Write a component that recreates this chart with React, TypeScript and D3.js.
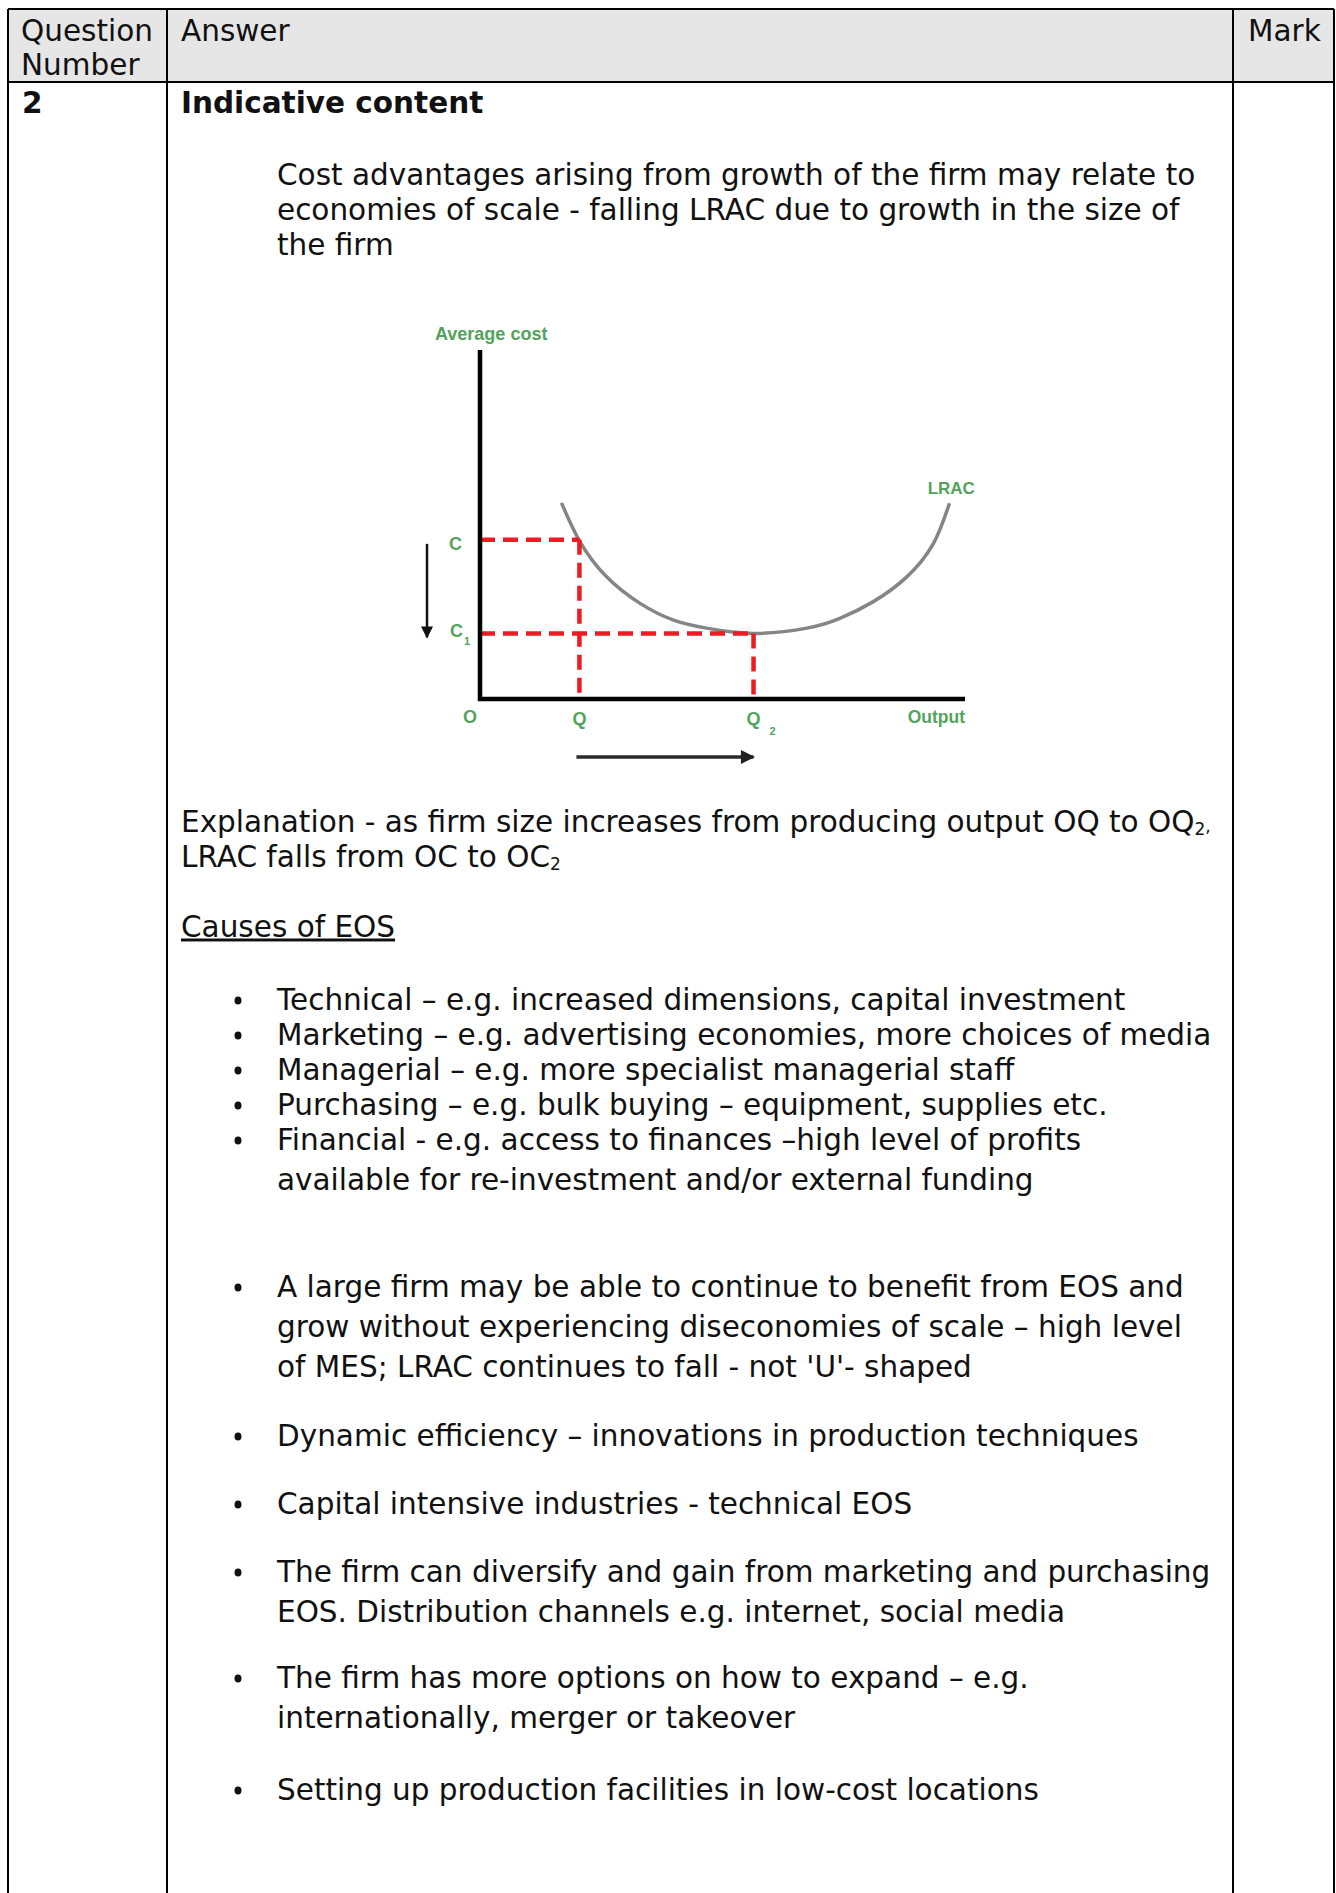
import React from 'react';
import * as d3 from 'd3';

// table text
const headerLabels = ['Question', 'Number'];
const answerLabel = 'Answer';
const markLabel = 'Mark';
const questionNo = '2';
const sectionTitle = 'Indicative content';
const introLines = [
    'Cost advantages arising from growth of the firm may relate to',
    'economies of scale - falling LRAC due to growth in the size of',
    'the firm',
];
const causesTitle = 'Causes of EOS';
const causes = [
    ['Technical – e.g. increased dimensions, capital investment'],
    ['Marketing – e.g. advertising economies, more choices of media'],
    ['Managerial – e.g. more specialist managerial staff'],
    ['Purchasing – e.g. bulk buying – equipment, supplies etc.'],
    ['Financial - e.g. access to finances –high level of profits', 'available for re-investment and/or external funding'],
];
const points = [
    ['A large firm may be able to continue to benefit from EOS and', 'grow without experiencing diseconomies of scale – high level', "of MES; LRAC continues to fall - not 'U'- shaped"],
    ['Dynamic efficiency – innovations in production techniques'],
    ['Capital intensive industries - technical EOS'],
    ['The firm can diversify and gain from marketing and purchasing', 'EOS. Distribution channels e.g. internet, social media'],
    ['The firm has more options on how to expand – e.g.', 'internationally, merger or takeover'],
    ['Setting up production facilities in low-cost locations'],
];

// chart values (output, average cost)
const lracCurve: [number, number][] = [
    [16.8, 56.2], [20.6, 45.1], [26.1, 35.0], [33.0, 27.4], [39.9, 22.6], [46.7, 20.3],
    [56.4, 18.8], [67.4, 20.3], [74.2, 23.1], [81.1, 27.9], [88.0, 35.0], [93.5, 44.6], [96.8, 56.1],
];
const qVal = 20.5;
const q2Val = 56.4;
const cVal = 45.6;
const c1Val = 18.8;

const FONT = 'DejaVu Sans, Verdana, sans-serif';
const CHART_FONT = 'Liberation Sans, Arial, sans-serif';
const GREEN = '#3f9a4b';
const RED = '#ec1c24';

export default function App() {
    const W = 1336;
    const H = 1893;
    const colX = [8, 167, 1233, 1334];
    const top = 9;
    const headBottom = 82;
    const fs = 29.5;
    const dy = 1.5; // small nudge for all body text

    const x = d3.scaleLinear().domain([0, 100]).range([480, 965]);
    const y = d3.scaleLinear().domain([0, 100]).range([699, 350]);
    const line = d3.line<[number, number]>()
        .x(d => x(d[0]))
        .y(d => y(d[1]))
        .curve(d3.curveNatural);

    const causeBase = [1008, 1043, 1078, 1113, 1148].map(v => v + dy);
    const pointBase = [1295, 1444, 1512, 1580, 1686, 1798].map(v => v + dy);

    const bullet = (k: string, base: number) => (
        <ellipse key={k} cx={238} cy={base - 9} rx={3.5} ry={4} fill="#111" />
    );

    return (
        <svg width={W} height={H} style={{ position: 'absolute', left: 0, top: 0, background: '#fff' }}
            fontFamily={FONT}>
            <defs>
                <marker id="ahDown" viewBox="0 0 10 10" refX="9" refY="5" markerUnits="userSpaceOnUse"
                    markerWidth="15" markerHeight="12" orient="auto">
                    <path d="M0,0 L10,5 L0,10 z" fill="#111" />
                </marker>
                <marker id="ahRight" viewBox="0 0 10 10" refX="9" refY="5" markerUnits="userSpaceOnUse"
                    markerWidth="16" markerHeight="14" orient="auto">
                    <path d="M0,0 L10,5 L0,10 z" fill="#222" />
                </marker>
            </defs>

            {/* table */}
            <rect x={colX[0]} y={top} width={colX[3] - colX[0]} height={headBottom - top} fill="#e6e6e6" />
            <line x1={colX[0]} x2={colX[3]} y1={top} y2={top} stroke="#000" strokeWidth={2} />
            <line x1={colX[0]} x2={colX[3]} y1={headBottom} y2={headBottom} stroke="#000" strokeWidth={2} />
            {colX.map((cx, i) => (
                <line key={i} x1={cx} x2={cx} y1={top} y2={H} stroke="#000" strokeWidth={2} />
            ))}

            <g fontSize={fs} fill="#111">
                <text x={21} y={41}>{headerLabels[0]}</text>
                <text x={21} y={75}>{headerLabels[1]}</text>
                <text x={181} y={41}>{answerLabel}</text>
                <text x={1248} y={41}>{markLabel}</text>
                <text x={22} y={112.5} fontWeight="bold">{questionNo}</text>
                <text x={181} y={112.5} fontWeight="bold">{sectionTitle}</text>

                {introLines.map((t, i) => (
                    <text key={i} x={277} y={183 + dy + i * 35}>{t}</text>
                ))}

                <text x={181} y={830 + dy}>
                    Explanation - as firm size increases from producing output OQ to OQ
                    <tspan fontSize={17} dy={3}>2</tspan>
                    <tspan fontSize={17} dy={-3}>,</tspan>
                </text>
                <text x={181} y={865 + dy}>
                    LRAC falls from OC to OC
                    <tspan fontSize={17} dy={3}>2</tspan>
                </text>

                <text x={181} y={935 + dy} textDecoration="underline">{causesTitle}</text>

                {causes.map((c, i) => (
                    <g key={`c${i}`}>
                        {bullet(`cb${i}`, causeBase[i])}
                        {c.map((t, j) => (
                            <text key={j} x={277} y={causeBase[i] + j * 40}>{t}</text>
                        ))}
                    </g>
                ))}

                {points.map((p, i) => (
                    <g key={`p${i}`}>
                        {bullet(`pb${i}`, pointBase[i])}
                        {p.map((t, j) => (
                            <text key={j} x={277} y={pointBase[i] + j * 40}>{t}</text>
                        ))}
                    </g>
                ))}
            </g>

            {/* diagram */}
            <g fontFamily={CHART_FONT} fontWeight="bold" fill={GREEN} opacity={0.9}>
                <text x={x(0) - 45} y={y(100) - 10} fontSize={18}>Average cost</text>
                <text x={x(92.3)} y={y(0) - 205} fontSize={17}>LRAC</text>
                <text x={x(0) - 31} y={y(cVal) + 10} fontSize={18}>C</text>
                <text x={x(0) - 30} y={y(c1Val) + 4} fontSize={18}>C</text>
                <text x={x(0) - 16} y={y(c1Val) + 12} fontSize={11}>1</text>
                <text x={x(0) - 17} y={y(0) + 24} fontSize={18}>O</text>
                <text x={x(qVal)} y={y(0) + 26} fontSize={18} textAnchor="middle">Q</text>
                <text x={x(q2Val)} y={y(0) + 26} fontSize={18} textAnchor="middle">Q</text>
                <text x={x(q2Val) + 16} y={y(0) + 36} fontSize={11}>2</text>
                <text x={x(100)} y={y(0) + 24} fontSize={17.5} textAnchor="end">Output</text>
            </g>

            <path d={line(lracCurve) || ''} fill="none" stroke="#858585" strokeWidth={3.5} />

            <g stroke={RED} strokeWidth={4.5} strokeDasharray="15 8" fill="none">
                <line x1={x(0)} x2={x(qVal)} y1={y(cVal)} y2={y(cVal)} />
                <line x1={x(qVal)} x2={x(qVal)} y1={y(cVal)} y2={y(0)} />
                <line x1={x(0)} x2={x(q2Val)} y1={y(c1Val)} y2={y(c1Val)} />
                <line x1={x(q2Val)} x2={x(q2Val)} y1={y(c1Val)} y2={y(0)} />
            </g>

            <line x1={x(0)} x2={x(0)} y1={y(100)} y2={y(0) + 2} stroke="#000" strokeWidth={4.5} />
            <line x1={x(0) - 2} x2={x(100)} y1={y(0)} y2={y(0)} stroke="#000" strokeWidth={4.5} />

            {/* movement arrows */}
            <line x1={x(0) - 53} x2={x(0) - 53} y1={y(cVal) + 4} y2={y(c1Val) + 4} stroke="#111" strokeWidth={2.5}
                markerEnd="url(#ahDown)" />
            <line x1={x(qVal) - 3} x2={x(q2Val)} y1={y(0) + 58} y2={y(0) + 58} stroke="#2a2a2a" strokeWidth={3.5}
                markerEnd="url(#ahRight)" />
        </svg>
    );
}
